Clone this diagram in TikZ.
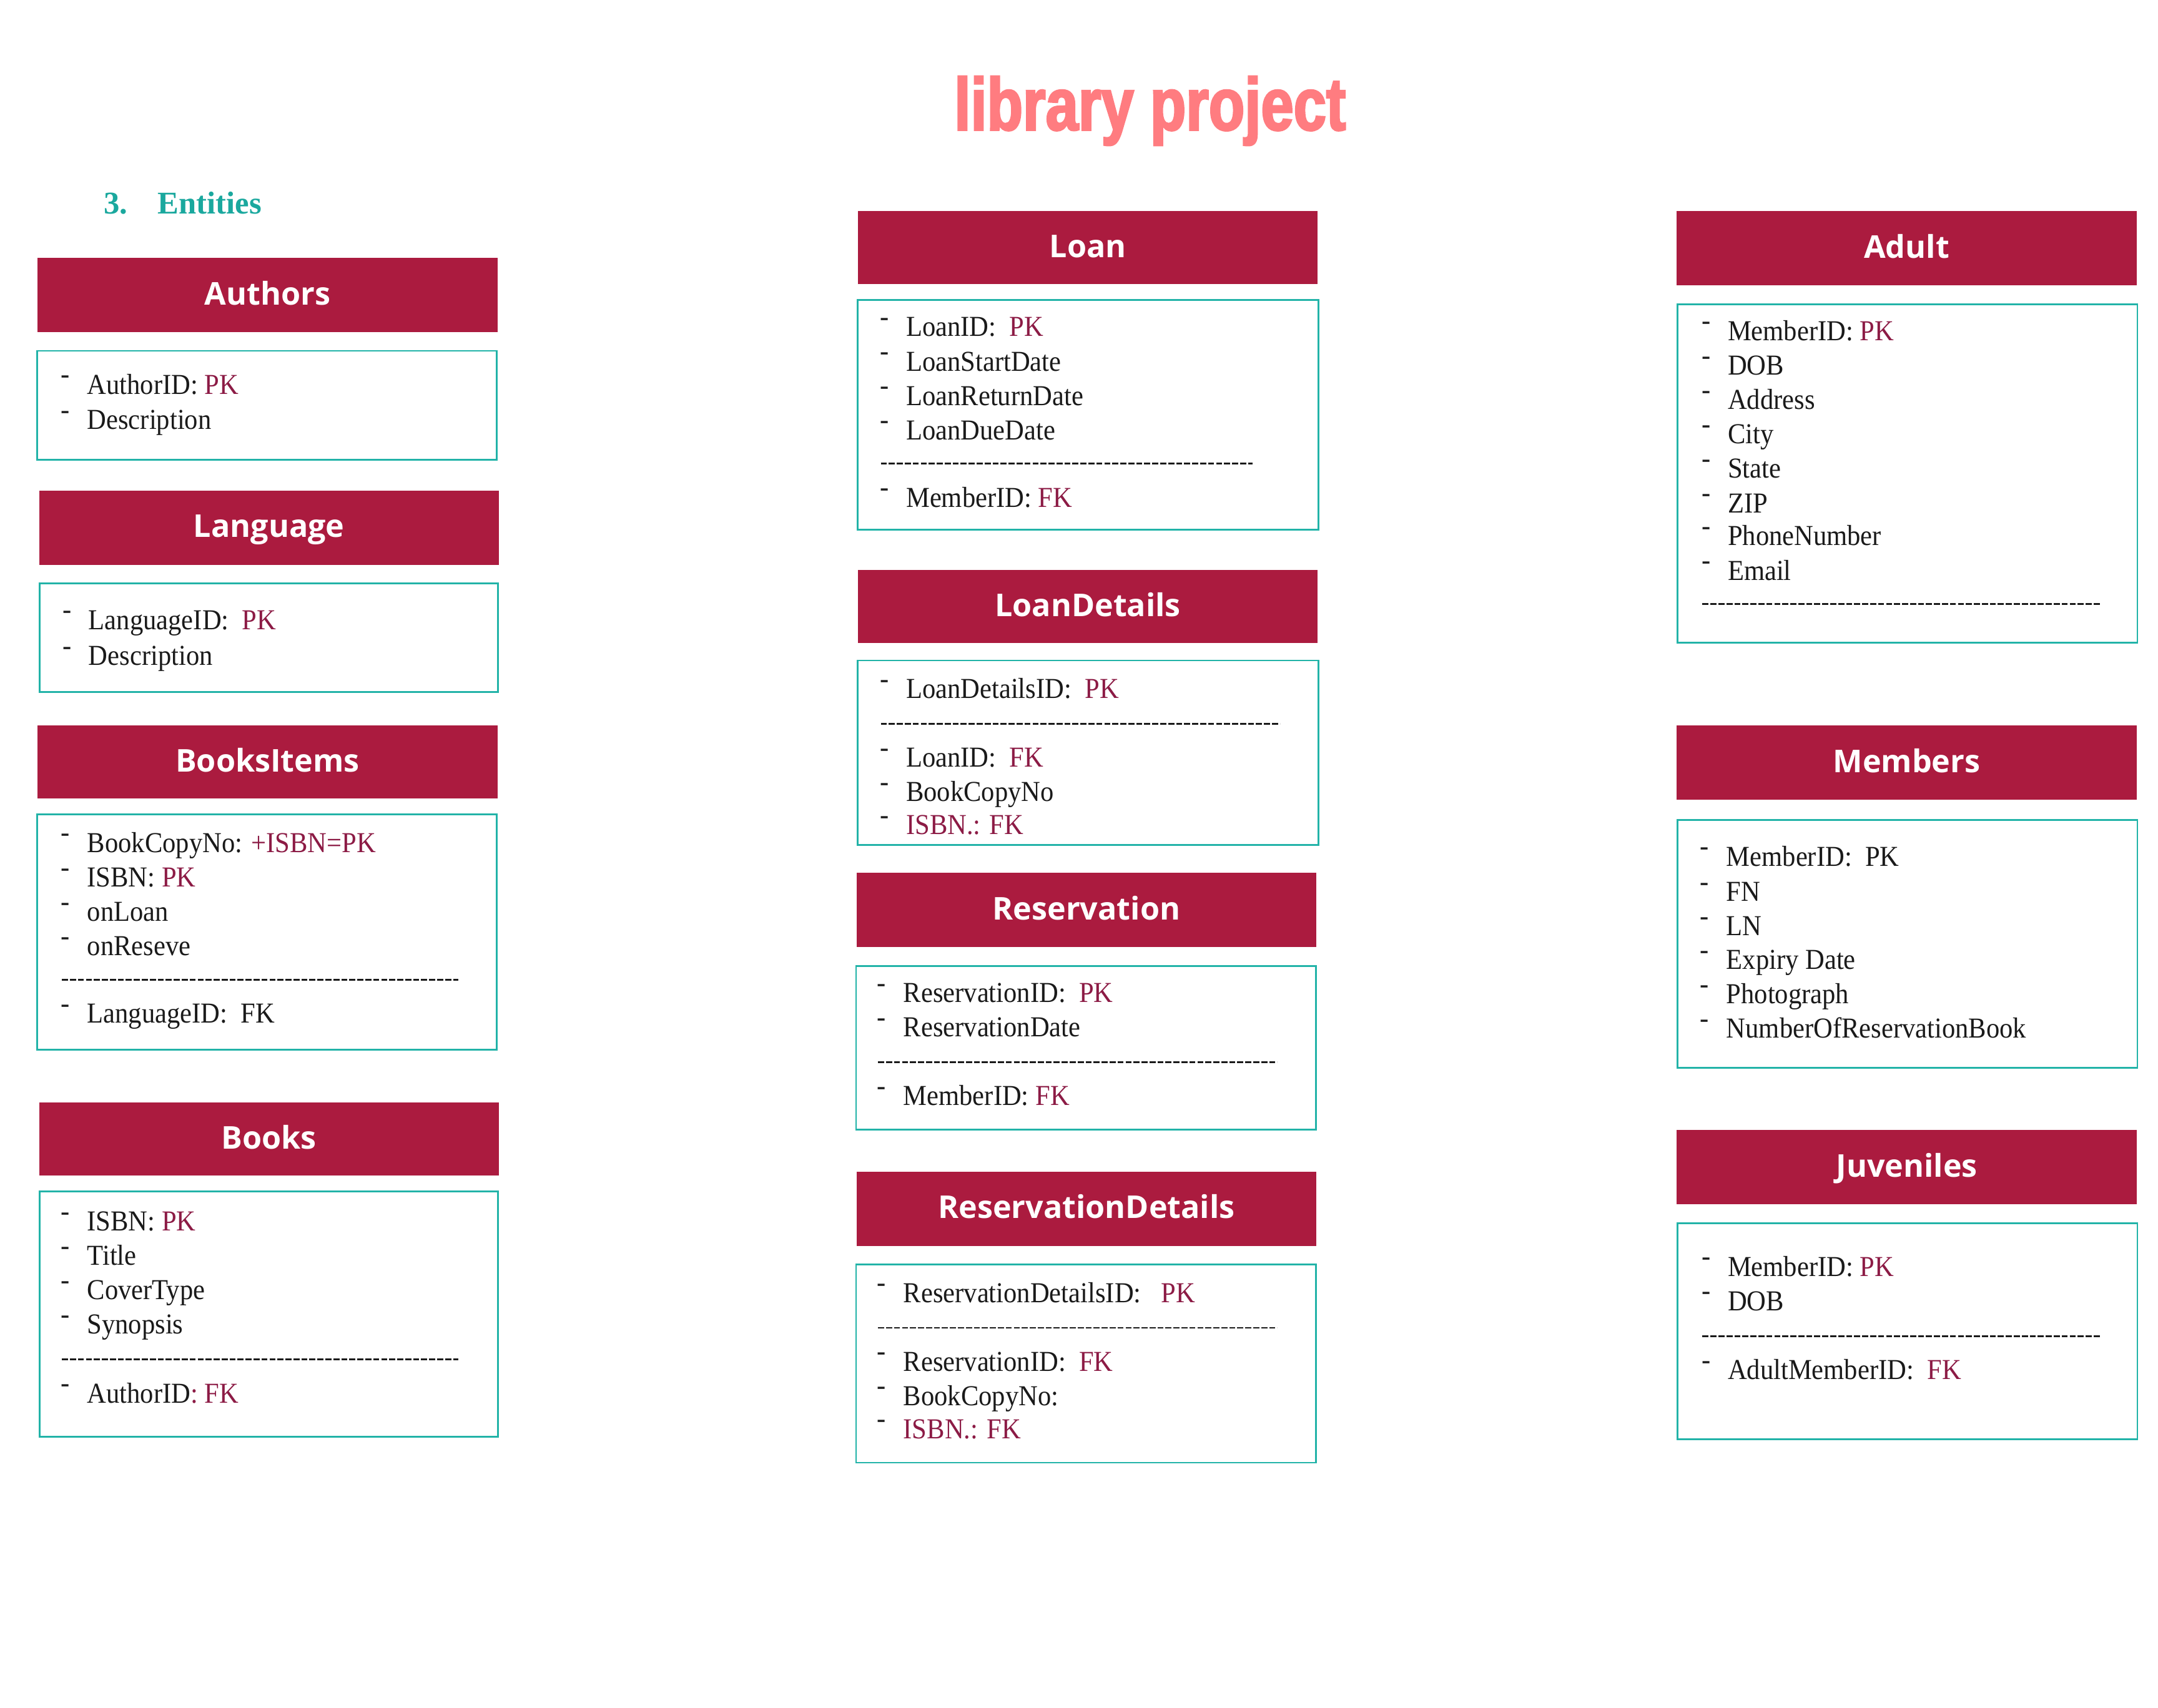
\documentclass[tikz,border=0pt]{standalone}
\usepackage{fontspec}
\usetikzlibrary{fit}
\setmainfont{Liberation Serif}
\newfontfamily\bodyfont{Liberation Serif}[FakeStretch=0.92]
\newfontfamily\hdrfont{Open Sans}
\newfontfamily\titlefont{Liberation Sans}[FakeStretch=0.79,FakeBold=2.5]
\newfontfamily\secfont{Liberation Serif}
\definecolor{hdr}{HTML}{AB1B3F}
\definecolor{tealb}{HTML}{22B3A8}
\definecolor{pkred}{HTML}{8C1B45}
\definecolor{ttl}{HTML}{FF7C80}
\definecolor{sect}{HTML}{1AA89E}
\definecolor{ink}{HTML}{1A1A1A}
\newcommand\li[1]{\makebox[9.5pt][l]{\raisebox{3.75pt}{-}}#1}
\newcommand\pk[1]{\textcolor{pkred}{#1}}
\begin{document}
\begin{tikzpicture}[x=0.5pt,y=-0.5pt,
  hdrbox/.style={fill=hdr, draw=none, inner sep=0pt, text=white, anchor=north west,
    minimum width=167pt, minimum height=27pt,
    font=\hdrfont\bfseries\fontsize{11.4}{13}\selectfont, text height=8.1pt, text depth=1pt},
  bodybox/.style={draw=tealb, line width=0.65pt, inner sep=0pt},
  attr/.style={anchor=base west, inner sep=0pt, text=ink,
    font=\bodyfont\fontsize{10.5}{12}\selectfont},
  sepline/.style={draw=ink, line width=0.6pt, dash pattern=on 2.2pt off 0.7pt}]
\fill[white] (0,0) rectangle (1568,1241.3);
\useasboundingbox (0,0) rectangle (1568,1241.3);

% title and section heading
\node[anchor=base west, inner sep=0pt, text=ttl,
  font=\titlefont\bfseries\fontsize{27}{30}\selectfont] (title) at (693,94.5) {library project};
\node[anchor=base west, inner sep=0pt, text=sect,
  font=\secfont\bfseries\fontsize{11.5}{13}\selectfont] (section) at (75,155.5) {3.\hspace{11pt}Entities};

% ---------- left column ----------
\node[hdrbox] (authH) at (27,187) {Authors};
\node[bodybox, fit={(27,255) (361,334)}] (authB) {};
\node[attr] (au1) at (44,286.5) {\li{AuthorID: \pk{PK}}};
\node[attr] (au2) at (44,312) {\li{Description}};

\node[hdrbox] (langH) at (28,356) {Language};
\node[bodybox, fit={(29,424) (362,503)}] (langB) {};
\node[attr] (la1) at (45,457.5) {\li{LanguageID:\ \ \pk{PK}}};
\node[attr] (la2) at (45,483.5) {\li{Description}};

\node[hdrbox, minimum height=26.5pt] (biH) at (27,527) {BooksItems};
\node[bodybox, fit={(27,592) (361,763)}] (biB) {};
\node[attr] (bi1) at (44,619.5) {\li{BookCopyNo: \pk{+ISBN=PK}}};
\node[attr] (bi2) at (44,644.5) {\li{ISBN: \pk{PK}}};
\node[attr] (bi3) at (44,669.5) {\li{onLoan}};
\node[attr] (bi4) at (44,694.5) {\li{onReseve}};
\draw[sepline] (45,712) -- (333,712);
\node[attr] (bi5) at (44,743.5) {\li{LanguageID:\ \ FK}};

\node[hdrbox, minimum height=26.5pt] (bkH) at (28,801) {Books};
\node[bodybox, fit={(29,866) (362,1044)}] (bkB) {};
\node[attr] (bk1) at (44,894.5) {\li{ISBN: \pk{PK}}};
\node[attr] (bk2) at (44,919.5) {\li{Title}};
\node[attr] (bk3) at (44,944.5) {\li{CoverType}};
\node[attr] (bk4) at (44,969.5) {\li{Synopsis}};
\draw[sepline] (45,988) -- (333,988);
\node[attr] (bk5) at (44,1019.5) {\li{AuthorID\pk{: FK}}};

% ---------- middle column ----------
\node[hdrbox, minimum height=26.5pt] (loanH) at (623,153) {Loan};
\node[bodybox, fit={(623,218) (958,385)}] (loanB) {};
\node[attr] (lo1) at (639,244.5) {\li{LoanID:\ \ \pk{PK}}};
\node[attr] (lo2) at (639,269.5) {\li{LoanStartDate}};
\node[attr] (lo3) at (639,294.5) {\li{LoanReturnDate}};
\node[attr] (lo4) at (639,319.5) {\li{LoanDueDate}};
\draw[sepline] (640,337) -- (910,337);
\node[attr] (lo5) at (639,368.5) {\li{MemberID:\ \pk{FK}}};

\node[hdrbox, minimum height=26.5pt] (ldH) at (623,414) {LoanDetails};
\node[bodybox, fit={(623,480) (958,614)}] (ldB) {};
\node[attr] (ld1) at (639,507.5) {\li{LoanDetailsID:\ \ \pk{PK}}};
\draw[sepline] (640,526) -- (930,526);
\node[attr] (ld2) at (639,557.5) {\li{LoanID:\ \ \pk{FK}}};
\node[attr] (ld3) at (639,582.5) {\li{BookCopyNo}};
\node[attr] (ld4) at (639,606.5) {\li{\pk{ISBN.: FK}}};

\node[hdrbox] (resH) at (622,634) {Reservation};
\node[bodybox, fit={(622,702) (956,821)}] (resB) {};
\node[attr] (re1) at (637,728.5) {\li{ReservationID:\ \ \pk{PK}}};
\node[attr] (re2) at (637,753.5) {\li{ReservationDate}};
\draw[sepline] (638,772) -- (928,772);
\node[attr] (re3) at (637,803.5) {\li{MemberID: \pk{FK}}};

\node[hdrbox] (rdH) at (622,851) {ReservationDetails};
\node[bodybox, fit={(622,919) (956,1063)}] (rdB) {};
\node[attr] (rd1) at (637,946.5) {\li{ReservationDetailsID:\ \ \ \pk{PK}}};
\draw[sepline] (638,965) -- (928,965);
\node[attr] (rd2) at (637,996.5) {\li{ReservationID:\ \ \pk{FK}}};
\node[attr] (rd3) at (637,1021.5) {\li{BookCopyNo:}};
\node[attr] (rd4) at (637,1045.5) {\li{\pk{ISBN.: FK}}};

% ---------- right column ----------
\node[hdrbox] (adH) at (1218,153) {Adult};
\node[bodybox, fit={(1219,221) (1553,467)}] (adB) {};
\node[attr] (ad1) at (1236,247.5) {\li{MemberID: \pk{PK}}};
\node[attr] (ad2) at (1236,272.5) {\li{DOB}};
\node[attr] (ad3) at (1236,297.5) {\li{Address}};
\node[attr] (ad4) at (1236,322.5) {\li{City}};
\node[attr] (ad5) at (1236,347.5) {\li{State}};
\node[attr] (ad6) at (1236,372.5) {\li{ZIP}};
\node[attr] (ad7) at (1236,396.5) {\li{PhoneNumber}};
\node[attr] (ad8) at (1236,421.5) {\li{Email}};
\draw[sepline] (1237,439) -- (1526,439);

\node[hdrbox] (meH) at (1218,527) {Members};
\node[bodybox, fit={(1219,596) (1553,776)}] (meB) {};
\node[attr] (me1) at (1235,629.5) {\li{MemberID:\ \ PK}};
\node[attr] (me2) at (1235,655) {\li{FN}};
\node[attr] (me3) at (1235,680) {\li{LN}};
\node[attr] (me4) at (1235,704.5) {\li{Expiry Date}};
\node[attr] (me5) at (1235,729.5) {\li{Photograph}};
\node[attr] (me6) at (1235,754.5) {\li{NumberOfReservationBook}};

\node[hdrbox] (juH) at (1218,821) {Juveniles};
\node[bodybox, fit={(1219,889) (1553,1046)}] (juB) {};
\node[attr] (ju1) at (1236,927.5) {\li{MemberID: \pk{PK}}};
\node[attr] (ju2) at (1236,952.5) {\li{DOB}};
\draw[sepline] (1237,971) -- (1526,971);
\node[attr] (ju3) at (1236,1002.5) {\li{AdultMemberID:\ \ \pk{FK}}};
\end{tikzpicture}
\end{document}
